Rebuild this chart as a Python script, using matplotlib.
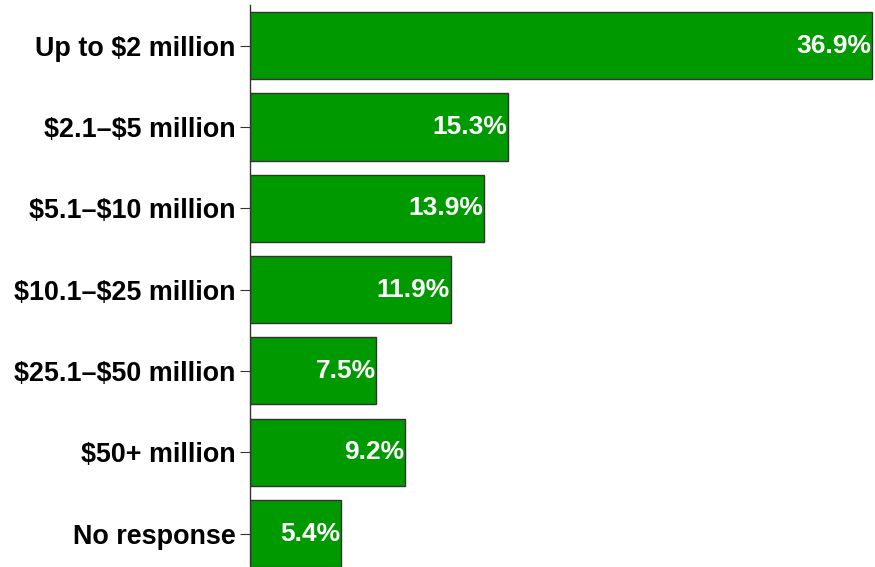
import matplotlib
matplotlib.use("Agg")
from matplotlib import pyplot as plt

categories = ["Up to $2 million", "$2.1\u2013$5 million", "$5.1\u2013$10 million",
              "$10.1\u2013$25 million", "$25.1\u2013$50 million", "$50+ million",
              "No response"]
values = [36.9, 15.3, 13.9, 11.9, 7.5, 9.2, 5.4]

plt.rcParams['font.family'] = ['Liberation Sans', 'DejaVu Sans']
plt.rcParams['text.parse_math'] = False

fig = plt.figure(figsize=(8.75, 5.67), dpi=100)
ax = fig.add_axes([250 / 875, 0, 625 / 875, 562 / 567])

ypos = list(range(len(categories)))
ax.barh(ypos, values, height=0.824, color='#009900', edgecolor='#333333', linewidth=1)

for y, v in zip(ypos, values):
    ax.annotate(f"{v}%", xy=(v, y), xytext=(-0.5, 0), textcoords='offset points',
                ha='right', va='center', color='white', fontsize=19, fontweight='bold')

ax.set_ylim(6.41, -0.5)
ax.set_xlim(0, 37.08)
ax.set_yticks(ypos)
ax.set_yticklabels(categories, fontsize=19.4, fontweight='bold')
ax.tick_params(axis='y', length=7.5, width=0.8, pad=3, color='#333333')
ax.set_xticks([])
for s in ['top', 'right', 'bottom']:
    ax.spines[s].set_visible(False)
ax.spines['left'].set_color('#333333')
ax.spines['left'].set_linewidth(1)

fig.savefig("out.png", dpi=100)
